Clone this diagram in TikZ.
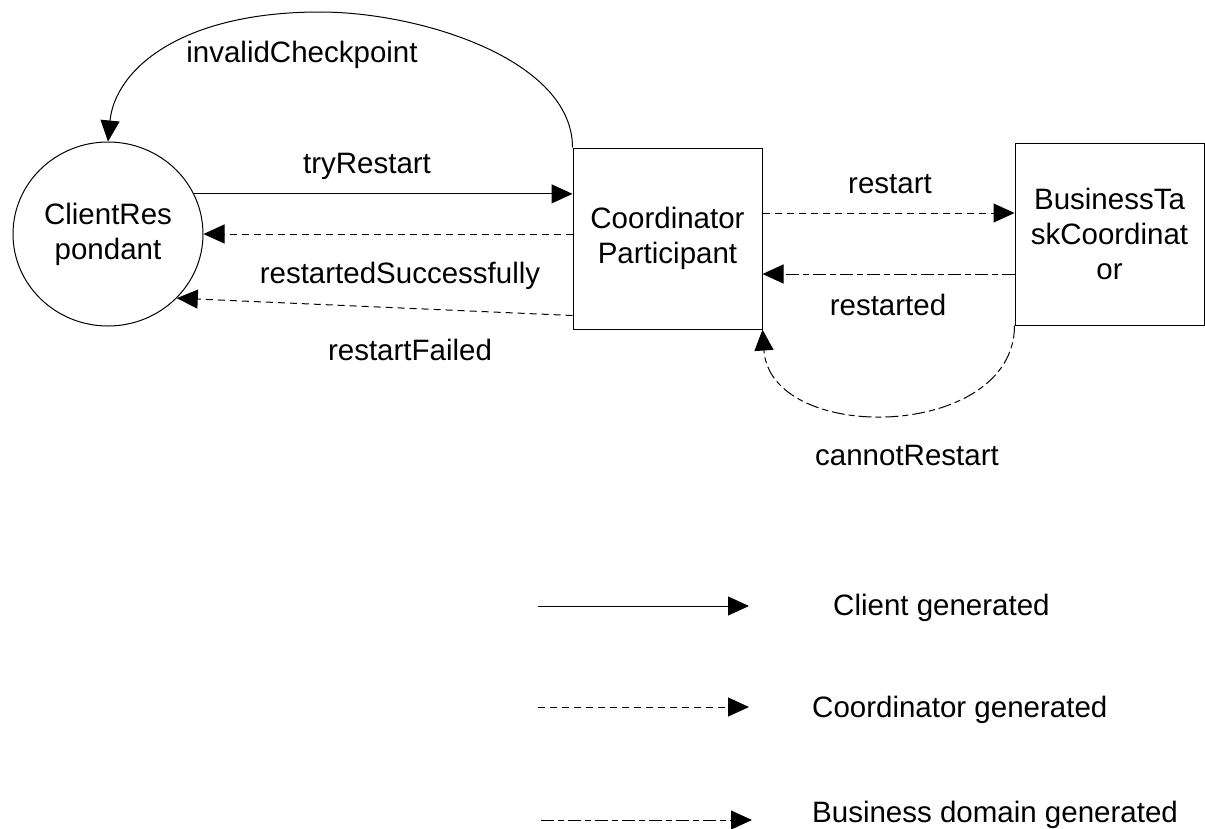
\documentclass[tikz,border=0pt]{standalone}
\usepackage{fontspec}
\setmainfont{Liberation Sans}
\usetikzlibrary{shapes.geometric,arrows.meta,calc}
\begin{document}
\begin{tikzpicture}[x=1pt,y=-1pt,
  every node/.style={font=\fontsize{29.5}{35}\selectfont},
  state/.style={draw, line width=1pt, inner sep=0pt, align=center},
  lbl/.style={anchor=base, inner sep=0pt},
  key/.style={anchor=base west, inner sep=0pt},
  tip/.style={-{Triangle[length=21pt,width=19pt]}},
  client/.style={tip, line width=1pt},
  coord/.style={tip, line width=1pt, dash pattern=on 7pt off 5pt},
  biz/.style={tip, line width=1pt, dash pattern=on 13pt off 4pt on 6pt off 4pt},
]
\useasboundingbox (0,0) rectangle (1205,828);

% participants
\node[state, ellipse, minimum width=190pt, minimum height=184pt] (cr) at (108,234) {ClientRes\\pondant};
\node[state, rectangle, minimum width=189pt, minimum height=181pt] (cp) at (667.5,238.5) {Coordinator\\Participant};
\node[state, rectangle, minimum width=189pt, minimum height=182pt] (btc) at (1109.5,234) {BusinessTa\\skCoordinat\\or};

% helper points on the box sides
\coordinate (apex) at (320,12);
\coordinate (rsFail) at ($(cp.south west)+(0,-14)$);
\coordinate (rsReq) at ($(btc.west)+(0,-21)$);
\coordinate (rsDone) at ($(btc.west)+(0,40)$);

% client generated
\draw[client] (cr.25.7) -- (cr.25.7 -| cp.west);

% coordinator generated
\draw[coord] (cr.east -| cp.west) -- (cr.east);
\draw[coord] (rsFail) -- (cr.-43);
\draw[coord] (rsReq -| cp.east) -- (rsReq);
\draw[line width=1pt] (cp.north west) .. controls +(0,-88) and +(100,0) .. (apex);
\draw[client] (apex) .. controls (180,12) and (115,70) .. (cr.north);

% business domain generated
\draw[biz] (rsDone) -- (rsDone -| cp.east);
\draw[biz] (btc.south west) .. controls +(0,115) and +(8,116) .. (cp.south east);

% message labels
\node[lbl] (lInv) at (302,62) {invalidCheckpoint};
\node[lbl] (lTry) at (367,173) {tryRestart};
\node[lbl] (lOk) at (400,283) {restartedSuccessfully};
\node[lbl] (lFail) at (410,360) {restartFailed};
\node[lbl] (lReq) at (890,193) {restart};
\node[lbl] (lDone) at (888,315) {restarted};
\node[lbl] (lNo) at (907,465) {cannotRestart};

% legend
\coordinate (k1a) at (538,606);
\coordinate (k1b) at (749,606);
\coordinate (k2a) at (538,707);
\coordinate (k2b) at (749,707);
\coordinate (k3a) at (541,820);
\coordinate (k3b) at (752,820);
\draw[client] (k1a) -- (k1b);
\draw[coord] (k2a) -- (k2b);
\draw[biz] (k3a) -- (k3b);
\node[key] (t1) at (833,615) {Client generated};
\node[key] (t2) at (812,717) {Coordinator generated};
\node[key] (t3) at (812,822) {Business domain generated};
\end{tikzpicture}
\end{document}
